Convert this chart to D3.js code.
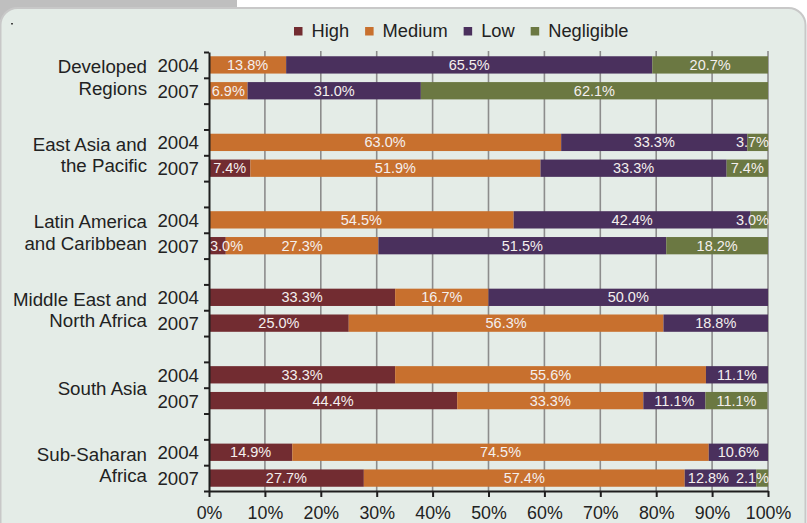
<!DOCTYPE html>
<html>
<head>
<meta charset="utf-8">
<script src="https://cdn.jsdelivr.net/npm/d3@7"></script>
<style>
  body { margin: 0; background: #ffffff; }
  svg { display: block; font-family: "Liberation Sans", Arial, sans-serif; }
</style>
</head>
<body>
<div id="vis1"></div>
<script>
// data
const regions = ['Developed Regions', 'East Asia and the Pacific', 'Latin America and Caribbean',
                 'Middle East and North Africa', 'South Asia', 'Sub-Saharan Africa'];
const regionLines = [['Developed', 'Regions'], ['East Asia and', 'the Pacific'], ['Latin America', 'and Caribbean'],
                     ['Middle East and', 'North Africa'], ['South Asia'], ['Sub-Saharan', 'Africa']];
const years = ['2004', '2007'];
const seriesNames = ['High', 'Medium', 'Low', 'Negligible'];
const colors = ['#722c31', '#c8702e', '#4a305d', '#6b7842'];
const tickValues = [0, 10, 20, 30, 40, 50, 60, 70, 80, 90, 100];

// one array per series, order: region x year
const high       = [0, 0,      0, 7.4,     0, 3.0,     33.3, 25.0,  33.3, 44.4,  14.9, 27.7];
const medium     = [13.8, 6.9, 63.0, 51.9, 54.5, 27.3, 16.7, 56.3,  55.6, 33.3,  74.5, 57.4];
const low        = [65.5, 31.0, 33.3, 33.3, 42.4, 51.5, 50.0, 18.8, 11.1, 11.1,  10.6, 12.8];
const negligible = [20.7, 62.1, 3.7, 7.4,  3.0, 18.2,  0, 0,       0, 11.1,     0, 2.1];
const series = [high, medium, low, negligible];

const FRAME_WIDTH = 807;
const FRAME_HEIGHT = 523;
const PLOT = {left: 209, right: 768, top: 52, bottom: 491};

const svg = d3.select('#vis1')
  .append('svg')
    .attr('width', FRAME_WIDTH)
    .attr('height', FRAME_HEIGHT);

// background panel
svg.append('rect').attr('x', 0).attr('y', 0).attr('width', 237).attr('height', 20).attr('fill', '#bfbfbf');
svg.append('rect')
  .attr('x', 0.5).attr('y', 8).attr('width', 805).attr('height', 540).attr('rx', 17)
  .attr('fill', '#e4ece7').attr('stroke', '#c8c8c8').attr('stroke-width', 2);
svg.append('rect').attr('x', 11).attr('y', 23).attr('width', 2).attr('height', 1.5).attr('fill', '#444');

// rows: each region gets two bars, with a gap row between regions
const rows = [];
regions.forEach((r, i) => {
  years.forEach(y => rows.push(r + '|' + y));
  if (i < regions.length - 1) rows.push('gap' + i);
});

const X_SCALE = d3.scaleLinear().domain([0, 100]).range([PLOT.left, PLOT.right]);
const Y_SCALE = d3.scaleBand().domain(rows).range([PLOT.top, PLOT.bottom])
  .paddingInner(0.33).paddingOuter(0.165);
const step = Y_SCALE.step();
const ROW_EDGE = d3.scaleLinear().domain([0, rows.length]).range([PLOT.top, PLOT.bottom]);

// gridlines
svg.append('g')
  .selectAll('line')
  .data(tickValues.slice(1))
  .enter()
  .append('line')
    .attr('x1', d => X_SCALE(d)).attr('x2', d => X_SCALE(d))
    .attr('y1', PLOT.top - 1).attr('y2', PLOT.bottom)
    .attr('stroke', '#8c8c8c').attr('stroke-width', 1.6);

// bars
const bars = [];
regions.forEach((r, ri) => {
  years.forEach((yr, yi) => {
    const idx = ri * 2 + yi;
    let acc = 0;
    const segs = [];
    series.forEach((s, si) => {
      const v = s[idx];
      segs.push({row: r + '|' + yr, s: si, x0: acc, x1: acc + v, v: v});
      acc += v;
    });
    bars.push(segs);
  });
});

const barG = svg.append('g');
bars.forEach(segs => {
  barG.selectAll(null)
    .data(segs.filter(d => d.v > 0))
    .enter()
    .append('rect')
      .attr('x', d => X_SCALE(d.x0))
      .attr('y', d => Y_SCALE(d.row))
      .attr('width', d => X_SCALE(Math.min(d.x1, 100)) - X_SCALE(d.x0))
      .attr('height', Y_SCALE.bandwidth())
      .attr('fill', d => colors[d.s]);
});

// bar labels, kept inside the 0-100 range and pushed apart when they collide
const labelG = svg.append('g');
bars.forEach(segs => {
  const items = segs.filter(d => d.v > 0).map(d => {
    const t = labelG.append('text')
      .attr('font-size', '14.5px')
      .attr('fill', '#f4efee')
      .attr('y', Y_SCALE(d.row) + Y_SCALE.bandwidth() / 2 + 5)
      .text(d.v.toFixed(1) + '%');
    const w = t.node().getComputedTextLength();
    let left = (X_SCALE(d.x0) + X_SCALE(Math.min(d.x1, 100))) / 2 - w / 2;
    left = Math.max(left, PLOT.left + 1);
    left = Math.min(left, PLOT.right + 1 - w);
    return {t: t, w: w, left: left};
  });
  for (let i = items.length - 2; i >= 0; i--) {
    const limit = items[i + 1].left - 7;
    if (items[i].left + items[i].w > limit) items[i].left = limit - items[i].w;
  }
  items.forEach(it => it.t.attr('x', it.left));
});

// left axis with ticks at row edges
svg.append('g')
  .attr('transform', 'translate(' + PLOT.left + ',0)')
  .call(d3.axisLeft(ROW_EDGE).tickValues(d3.range(rows.length + 1)).tickFormat('').tickSize(5).tickSizeOuter(0))
  .call(g => g.select('.domain').attr('stroke', '#1e1e1e').attr('stroke-width', 2))
  .call(g => g.selectAll('.tick line').attr('stroke', '#1e1e1e').attr('stroke-width', 2));

// bottom axis
svg.append('g')
  .attr('transform', 'translate(0,' + PLOT.bottom + ')')
  .call(d3.axisBottom(X_SCALE).tickValues(tickValues).tickFormat(d => d + '%').tickSize(6).tickSizeOuter(0).tickPadding(9.5))
  .call(g => g.select('.domain').attr('stroke', '#1e1e1e').attr('stroke-width', 2))
  .call(g => g.selectAll('.tick line').attr('stroke', '#1e1e1e').attr('stroke-width', 2))
  .call(g => g.selectAll('.tick text').attr('font-size', '17.8px').attr('fill', '#222')
    .attr('font-family', '"Liberation Sans", Arial, sans-serif'));

// year labels
rows.filter(r => r.indexOf('|') > 0).forEach(r => {
  svg.append('text')
    .attr('x', 199)
    .attr('y', Y_SCALE(r) + Y_SCALE.bandwidth() / 2 + 7)
    .attr('text-anchor', 'end')
    .attr('font-size', '18.7px')
    .attr('fill', '#222')
    .text(r.split('|')[1]);
});

// region labels
regions.forEach((r, i) => {
  const center = Y_SCALE(r + '|2004') - (step - Y_SCALE.bandwidth()) / 2 + step;
  const lines = regionLines[i];
  const t = svg.append('text')
    .attr('text-anchor', 'end')
    .attr('font-size', '18.7px')
    .attr('fill', '#222');
  if (lines.length === 1) {
    t.append('tspan').attr('x', 147).attr('y', center + 7).text(lines[0]);
  } else {
    t.append('tspan').attr('x', 147).attr('y', center - 4.5).text(lines[0]);
    t.append('tspan').attr('x', 147).attr('y', center + 17).text(lines[1]);
  }
});

// legend
let lx = 294;
seriesNames.forEach((name, i) => {
  svg.append('rect')
    .attr('x', lx).attr('y', 27).attr('width', 8.5).attr('height', 8.5)
    .attr('fill', colors[i]);
  const t = svg.append('text')
    .attr('x', lx + 17.5).attr('y', 37)
    .attr('font-size', '18.3px')
    .attr('fill', '#222')
    .text(name);
  lx += 17.5 + t.node().getComputedTextLength() + 16;
});
</script>
</body>
</html>
